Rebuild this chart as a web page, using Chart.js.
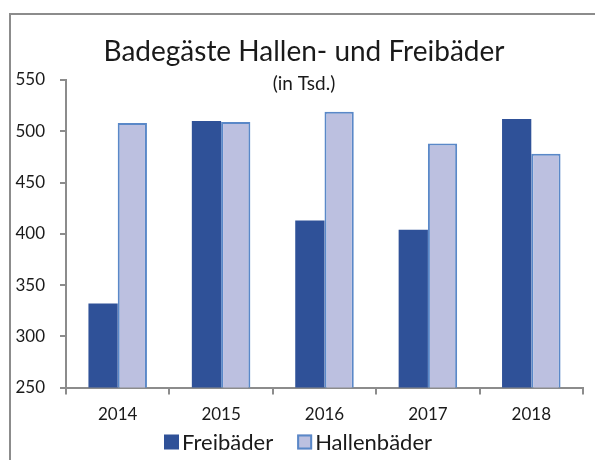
<!DOCTYPE html>
<html>
<head>
<meta charset="utf-8">
<script src="https://cdn.jsdelivr.net/npm/chart.js@4/dist/chart.umd.min.js"></script>
<style>
  html, body { margin: 0; padding: 0; background: #fff; }
  #wrap { width: 595px; height: 460px; position: relative; }
</style>
</head>
<body>
<div id="wrap"><canvas id="c" width="595" height="460"></canvas></div>
<script>
const categories = ["2014", "2015", "2016", "2017", "2018"];
const freibaeder = [332, 510, 413, 404, 512];
const hallenbaeder = [508, 509, 519, 488, 478];
const seriesNames = ["Freibäder", "Hallenbäder"];
const titleText = "Badegäste Hallen- und Freibäder";
const subtitleText = "(in Tsd.)";
const yTicks = [250, 300, 350, 400, 450, 500, 550];

const FONT = "Lato";
const TXT = "#1a1a1a";
const AXIS = "#8c8c8c";

const decor = {
  id: "decor",
  beforeDraw(chart) {
    const ctx = chart.ctx;
    ctx.save();
    ctx.fillStyle = "#fff";
    ctx.fillRect(0, 0, chart.width, chart.height);
    ctx.strokeStyle = "#8c8c8c";
    ctx.lineWidth = 2;
    ctx.strokeRect(10, 14, 800, 800);
    ctx.restore();
  },
  afterDraw(chart) {
    const ctx = chart.ctx;
    ctx.save();
    ctx.fillStyle = TXT;
    ctx.textAlign = "center";
    ctx.textBaseline = "alphabetic";
    ctx.font = "28px " + FONT;
    ctx.fillText(titleText, 304, 61);
    ctx.font = "19px " + FONT;
    ctx.fillText(subtitleText, 304, 90);
    // legend
    ctx.font = "22px " + FONT;
    ctx.textAlign = "left";
    ctx.textBaseline = "middle";
    const ds = chart.data.datasets;
    let x = 164;
    const y = 442;
    ds.forEach((d, i) => {
      ctx.fillStyle = d.backgroundColor;
      ctx.fillRect(x, y - 7.5, 15, 15);
      if (d.borderWidth) {
        ctx.strokeStyle = d.borderColor;
        ctx.lineWidth = 2;
        ctx.strokeRect(x + 1, y - 6.5, 13, 13);
      }
      ctx.fillStyle = TXT;
      ctx.fillText(d.label, x + 18, y + 1);
      x += 18 + ctx.measureText(d.label).width + 24;
    });
    ctx.restore();
  }
};

new Chart(document.getElementById("c"), {
  type: "bar",
  data: {
    labels: categories,
    datasets: [
      { label: seriesNames[0], data: freibaeder, backgroundColor: "#2F5198", borderColor: "#4A6DB0", borderWidth: 0 },
      { label: seriesNames[1], data: hallenbaeder, backgroundColor: "#BCC0E0", borderColor: "#5A88C8", borderWidth: 2 }
    ]
  },
  options: {
    responsive: false,
    animation: false,
    devicePixelRatio: 1,
    layout: { padding: { left: 0, right: 12, top: 80, bottom: 25 } },
    datasets: { bar: { categoryPercentage: 0.566, barPercentage: 1.0 } },
    plugins: {
      legend: { display: false },
      title: { display: false },
      tooltip: { enabled: false }
    },
    scales: {
      x: {
        offset: true,
        grid: { display: true, drawOnChartArea: false, offset: true, tickLength: 7, color: AXIS, lineWidth: 2 },
        border: { display: true, color: AXIS, width: 2 },
        ticks: { color: TXT, font: { family: FONT, size: 17 }, padding: 10 }
      },
      y: {
        min: 250,
        max: 550,
        afterFit(scale) { scale.width = 66; },
        afterBuildTicks(scale) { scale.ticks = yTicks.map(v => ({ value: v })); },
        grid: { display: true, drawOnChartArea: false, tickLength: 6, color: AXIS, lineWidth: 2 },
        border: { display: true, color: AXIS, width: 2 },
        ticks: { color: TXT, font: { family: FONT, size: 17 }, padding: 15 }
      }
    }
  },
  plugins: [decor]
});
</script>
</body>
</html>
